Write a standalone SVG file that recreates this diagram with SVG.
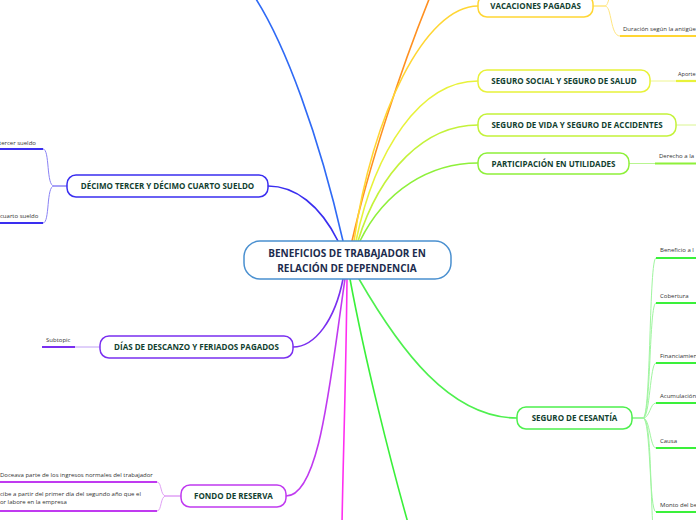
<svg xmlns="http://www.w3.org/2000/svg" width="696" height="520" viewBox="0 0 696 520">
<style>
.node{fill:#fff;stroke-width:1.5}
.nt{font-family:"Open Sans","Noto Sans",sans-serif;font-weight:bold;font-size:8px;fill:#123f30;text-anchor:middle}
.ct{font-family:"Open Sans","Noto Sans",sans-serif;font-weight:bold;font-size:10px;fill:#1c2b4d;text-anchor:middle}
.st{font-family:"Open Sans","Noto Sans",sans-serif;font-size:6px;fill:#333}
.c{fill:none;stroke-width:1.6;stroke-linecap:round}
.thin{fill:none;stroke-width:1}
.ul{fill:none;stroke-width:2.2}
</style>
<g id="connectors">
<path class="c" d="M343 241 C320 140 285 40 250 -10" stroke="#2f6af5" stroke-width="2"/>
<path class="c" d="M352 241 C368 170 400 70 432 -8" stroke="#ff9020" stroke-width="2"/>
<path class="c" d="M354 241 C372 115 425 6 478 6" stroke="#ffd633"/>
<path class="c" d="M356 241 C375 150 420 81 478 81" stroke="#e8f23a"/>
<path class="c" d="M358 241 C380 170 425 125 478 125" stroke="#c4f23a"/>
<path class="c" d="M360 241 C385 190 430 163 478 163" stroke="#8ef03a"/>
<path class="c" d="M338 241 C320 205 295 186 268 186" stroke="#3a2ef0"/>
<path class="c" d="M343 279 C335 320 315 347 293 347" stroke="#7a2ff0"/>
<path class="c" d="M345 279 C330 380 320 496 286 496" stroke="#c03af0"/>
<path class="c" d="M347 279 C346 380 343 460 342 525" stroke="#ff2ff0" stroke-width="2"/>
<path class="c" d="M350 279 C365 360 390 460 410 530" stroke="#3af03a" stroke-width="2"/>
<path class="c" d="M359 279 C400 350 450 418 517 418" stroke="#4ef04e"/>
<path class="thin" d="M593 6 L605 6 C610 6 610 -20 618 -20" stroke="#ffe680"/>
<path class="thin" d="M593 6 L605 6 C612 6 610 36 620 36" stroke="#ffe680"/>
<path class="ul" d="M620 36 L696 36" stroke="#ffd633"/>
<path class="thin" d="M650 81 L676 81" stroke="#eef590"/>
<path class="ul" d="M676 81 L696 81" stroke="#e8f23a"/>
<path class="thin" d="M676 125 L696 125" stroke="#daf590"/>
<path class="thin" d="M629 163.5 L655 163.5" stroke="#b8f590"/>
<path class="ul" d="M655 163.5 L696 163.5" stroke="#8ef03a"/>
<path class="thin" d="M67 186 L54 186 C46 186 50 149 43 149" stroke="#8a82f5"/>
<path class="thin" d="M67 186 L54 186 C46 186 50 223 43 223" stroke="#8a82f5"/>
<path class="ul" d="M0 149 L43 149" stroke="#3a2ef0"/>
<path class="ul" d="M0 223 L43 223" stroke="#3a2ef0"/>
<path class="thin" d="M100 347 L75 347" stroke="#c0a0f5"/>
<path class="ul" d="M42 347 L75 347" stroke="#7a2ff0"/>
<path class="thin" d="M181 496 L166 496 C160 496 162 482 157 482" stroke="#e0a0f5"/>
<path class="thin" d="M181 496 L166 496 C160 496 162 511 157 511" stroke="#e0a0f5"/>
<path class="ul" d="M0 482 L157 482" stroke="#c03af0"/>
<path class="ul" d="M0 511 L157 511" stroke="#c03af0"/>
<path class="thin" d="M632 418 L643 418 C651 418 649 258 656 258" stroke="#9ff59f"/>
<path class="thin" d="M632 418 L643 418 C651 418 649 303 656 303" stroke="#9ff59f"/>
<path class="thin" d="M632 418 L643 418 C650 418 650 363 656 363" stroke="#9ff59f"/>
<path class="thin" d="M632 418 L643 418 C650 418 650 403 656 403" stroke="#9ff59f"/>
<path class="thin" d="M632 418 L643 418 C650 418 650 448 656 448" stroke="#9ff59f"/>
<path class="thin" d="M632 418 L643 418 C651 418 649 512 656 512" stroke="#9ff59f"/>
<path class="thin" d="M632 418 L643 418 C651 418 650 480 653 530" stroke="#9ff59f"/>
<path class="ul" d="M656 258 L696 258" stroke="#3af03a"/>
<path class="ul" d="M656 303 L696 303" stroke="#3af03a"/>
<path class="ul" d="M656 363 L696 363" stroke="#3af03a"/>
<path class="ul" d="M656 403 L696 403" stroke="#3af03a"/>
<path class="ul" d="M656 448 L696 448" stroke="#3af03a"/>
<path class="ul" d="M656 512 L696 512" stroke="#3af03a"/>
</g>
<g id="center">
<rect class="node" x="244" y="241" width="207" height="38" rx="16" stroke="#4a90d0"/>
<text class="ct" x="347" y="257">BENEFICIOS DE TRABAJADOR EN</text>
<text class="ct" x="347" y="272">RELACIÓN DE DEPENDENCIA</text>
</g>
<g id="vacaciones">
<rect class="node" x="478" y="-5" width="115" height="22" rx="9" stroke="#ffd633"/>
<text class="nt" x="535.5" y="9">VACACIONES PAGADAS</text>
</g>
<g id="vacaciones-duracion">
<text class="st" x="623" y="31">Duración según la antigüe</text>
</g>
<g id="seguro-social">
<rect class="node" x="478" y="70" width="172" height="22" rx="9" stroke="#e8f23a"/>
<text class="nt" x="564" y="84">SEGURO SOCIAL Y SEGURO DE SALUD</text>
</g>
<g id="seguro-social-aporte">
<text class="st" x="678" y="76" style="font-size:5.6px">Aporte</text>
</g>
<g id="seguro-vida">
<rect class="node" x="478" y="114" width="198" height="22" rx="9" stroke="#c4f23a"/>
<text class="nt" x="577" y="128">SEGURO DE VIDA Y SEGURO DE ACCIDENTES</text>
</g>
<g id="participacion">
<rect class="node" x="478" y="153" width="151" height="21" rx="9" stroke="#8ef03a"/>
<text class="nt" x="553.5" y="166.5">PARTICIPACIÓN EN UTILIDADES</text>
</g>
<g id="participacion-derecho">
<text class="st" x="659" y="158">Derecho a la</text>
</g>
<g id="decimo">
<rect class="node" x="67" y="175" width="201" height="22" rx="9" stroke="#3a2ef0"/>
<text class="nt" x="167.5" y="189">DÉCIMO TERCER Y DÉCIMO CUARTO SUELDO</text>
</g>
<g id="decimo-tercer">
<text class="st" x="-1" y="145">tercer sueldo</text>
</g>
<g id="decimo-cuarto">
<text class="st" x="0" y="218">cuarto sueldo</text>
</g>
<g id="dias">
<rect class="node" x="100" y="336" width="193" height="22" rx="9" stroke="#7a2ff0"/>
<text class="nt" x="196.5" y="350">DÍAS DE DESCANZO Y FERIADOS PAGADOS</text>
</g>
<g id="dias-subtopic">
<text class="st" x="46" y="342">Subtopic</text>
</g>
<g id="fondo">
<rect class="node" x="181" y="485" width="105" height="22" rx="9" stroke="#c03af0"/>
<text class="nt" x="233.5" y="499">FONDO DE RESERVA</text>
</g>
<g id="fondo-doceava">
<text class="st" x="0" y="477">Doceava parte de los ingresos normales del trabajador</text>
</g>
<g id="fondo-recibe">
<text class="st" x="0" y="496">cibe a partir del primer día del segundo año que el</text>
<text class="st" x="0" y="504">or labore en la empresa</text>
</g>
<g id="cesantia">
<rect class="node" x="517" y="407" width="115" height="22" rx="9" stroke="#4ef04e"/>
<text class="nt" x="574.5" y="421">SEGURO DE CESANTÍA</text>
</g>
<g id="cesantia-beneficio"><text class="st" x="660" y="252">Beneficio a l</text></g>
<g id="cesantia-cobertura"><text class="st" x="660" y="298">Cobertura</text></g>
<g id="cesantia-financiamiento"><text class="st" x="660" y="358">Financiamien</text></g>
<g id="cesantia-acumulacion"><text class="st" x="660" y="398">Acumulación</text></g>
<g id="cesantia-causa"><text class="st" x="660" y="443">Causa</text></g>
<g id="cesantia-monto"><text class="st" x="660" y="507">Monto del be</text></g>
</svg>
